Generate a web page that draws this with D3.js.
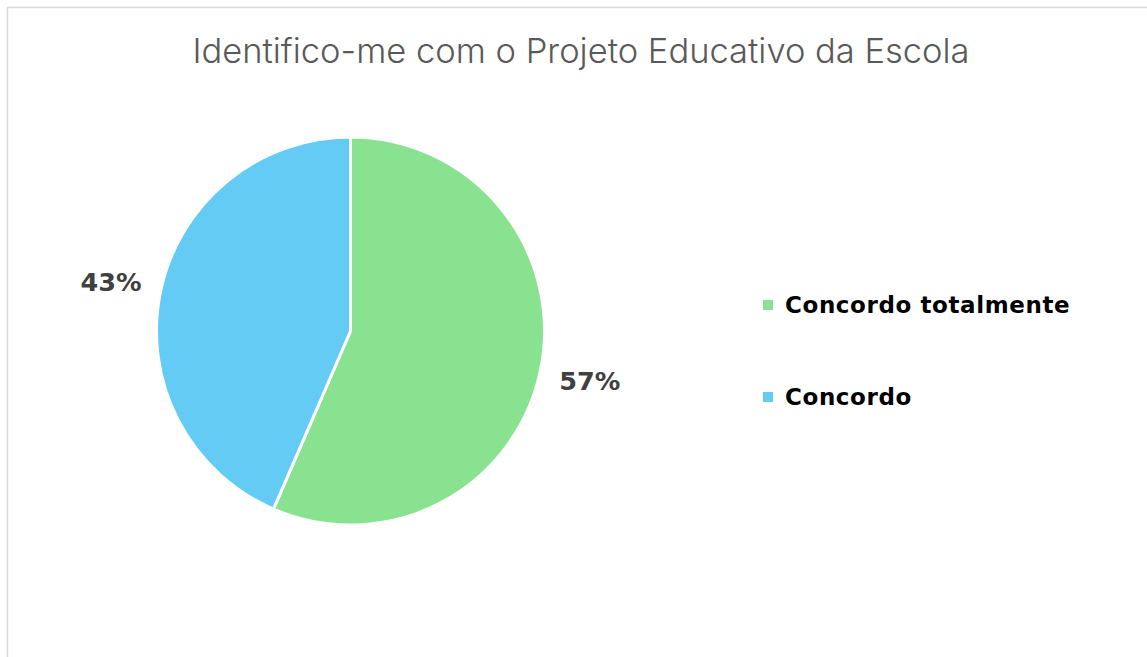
<!DOCTYPE html>
<html><head><meta charset="utf-8">
<script src="https://cdn.jsdelivr.net/npm/d3@7"></script>
<style>html,body{margin:0;padding:0;background:#fff;overflow:hidden}</style>
</head><body>
<svg id="chart" width="1147" height="657"></svg>
<script>
const title = "Identifico-me com o Projeto Educativo da Escola";
const categories = ["Concordo totalmente", "Concordo"];
const values = [56.5, 43.5];
const labels = ["57%", "43%"];
const colors = ["#89E290", "#63CBF4"];

const svg = d3.select("#chart");
svg.append("rect").attr("x", 7.5).attr("y", 7.5).attr("width", 1160).attr("height", 670)
  .attr("fill", "#fff").attr("stroke", "#d9d9d9").attr("stroke-width", 1.5);

svg.append("text").attr("x", 581).attr("y", 63).attr("text-anchor", "middle")
  .attr("font-family", "Inter, 'Open Sans', sans-serif").attr("font-weight", 300)
  .attr("font-size", 34.5).attr("fill", "#595959").text(title);

const cx = 350.5, cy = 331, r = 194;
const pie = d3.pie().sort(null).value(d => d.v);
const arcs = pie(categories.map((c, i) => ({c, v: values[i], i})));
const arc = d3.arc().innerRadius(0).outerRadius(r);
const g = svg.append("g").attr("transform", `translate(${cx},${cy})`);
g.selectAll("path").data(arcs).join("path")
  .attr("d", arc).attr("fill", d => colors[d.data.i])
  .attr("stroke", "#fff").attr("stroke-width", 3).attr("stroke-linejoin", "round");

const labelArc = d3.arc().innerRadius(r * 1.26).outerRadius(r * 1.26);
g.selectAll("text.lbl").data(arcs).join("text").attr("class", "lbl")
  .attr("transform", d => { const [x, y] = labelArc.centroid(d); return `translate(${x},${y})`; })
  .attr("text-anchor", "middle").attr("dy", "0.36em")
  .attr("font-family", "'DejaVu Sans', sans-serif").attr("font-weight", 700)
  .attr("font-size", 25.5).attr("fill", "#404040").text(d => labels[d.data.i]);

const leg = svg.append("g");
categories.forEach((c, i) => {
  const y = 305 + i * 92;
  leg.append("rect").attr("x", 763).attr("y", y - 5).attr("width", 10).attr("height", 10).attr("fill", colors[i]);
  leg.append("text").attr("x", 785).attr("y", y).attr("dy", "0.36em")
    .attr("font-family", "'DejaVu Sans', sans-serif").attr("font-weight", 700)
    .attr("font-size", 23).attr("letter-spacing", 0.6).attr("fill", "#000").text(c);
});
</script>
</body></html>
